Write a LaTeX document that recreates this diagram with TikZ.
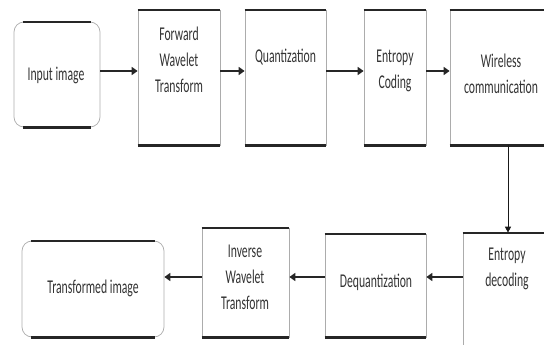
\documentclass[tikz,border=0pt]{standalone}
\usepackage{fontspec}
\newfontfamily\cf[FakeStretch=0.6]{Carlito}
\usetikzlibrary{arrows.meta}
\begin{document}
\begin{tikzpicture}[x=1pt,y=-1pt,
  box/.style={draw=gray!65, line width=0.7pt, rectangle, inner sep=0pt},
  rbox/.style={box, rounded corners=10pt},
  lbl/.style={text=black!80, font=\cf\fontsize{19.5}{26}\selectfont, align=center, inner sep=0pt},
  arr/.style={draw=black!85, line width=2.4pt, -{Triangle[length=6pt,width=8pt]}},
  varr/.style={draw=black!90, line width=1pt, -{Triangle[length=6pt,width=6pt]}},
  topedge/.style={draw=black!85, line width=1.8pt},
  botedge/.style={draw=black!85, line width=2.6pt}]
\useasboundingbox (0,0) rectangle (544,345);
\clip (0,0) rectangle (544,345);
% top row boxes
\node[rbox, minimum width=86pt, minimum height=105pt] (in) at (57,74.5) {};
\node[box, minimum width=82pt, minimum height=135pt] (fwt) at (179,77.5) {};
\node[box, minimum width=81pt, minimum height=135pt] (q) at (285.5,77.5) {};
\node[box, minimum width=62pt, minimum height=135pt] (ec) at (395,77.5) {};
\node[box, minimum width=120pt, minimum height=135pt] (wc) at (510,77.5) {};
% bottom row boxes
\node[rbox, minimum width=142pt, minimum height=96pt] (tr) at (93,289) {};
\node[box, minimum width=87pt, minimum height=109pt] (iwt) at (245.5,282.5) {};
\node[box, minimum width=101pt, minimum height=103pt] (dq) at (375.5,285.5) {};
\node[box, minimum width=120pt, minimum height=140pt] (ed) at (523,303) {};
% thick top/bottom edges
\foreach \n in {fwt,q,ec,wc,iwt,dq,ed}{
  \draw[topedge] (\n.north west) -- (\n.north east);
}
\foreach \n in {fwt,q,ec,wc,iwt,dq}{
  \draw[botedge] (\n.south west) -- (\n.south east);
}
\foreach \n in {in,tr}{
  \draw[topedge] ([xshift=9pt]\n.north west) -- ([xshift=-9pt]\n.north east);
  \draw[botedge] ([xshift=9pt]\n.south west) -- ([xshift=-9pt]\n.south east);
}
% labels
\node[lbl] (tin) at (56,75) {Input image};
\node[lbl] (tfwt) at (179,60) {Forward\\Wavelet\\Transform};
\node[lbl] (tq) at (285.5,57) {Quantization};
\node[lbl] (tec) at (395,71) {Entropy\\Coding};
\node[lbl] (twc) at (501,74) {Wireless\\communication};
\node[lbl] (ttr) at (93,288) {Transformed image};
\node[lbl] (tiwt) at (245,277) {Inverse\\Wavelet\\Transform};
\node[lbl] (tdq) at (376,282) {Dequantization};
\node[lbl] (ted) at (507,269) {Entropy\\decoding};
% connectors
\coordinate (ya) at (0,71);
\coordinate (yb) at (0,277);
\coordinate (xv) at (508,0);
\draw[arr] (in.east |- ya) -- (fwt.west |- ya);
\draw[arr] (fwt.east |- ya) -- (q.west |- ya);
\draw[arr] (q.east |- ya) -- (ec.west |- ya);
\draw[arr] (ec.east |- ya) -- (wc.west |- ya);
\draw[varr] (xv |- wc.south) -- (xv |- ed.north);
\draw[arr] (ed.west |- yb) -- (dq.east |- yb);
\draw[arr] (dq.west |- yb) -- (iwt.east |- yb);
\draw[arr] (iwt.west |- yb) -- (tr.east |- yb);
\end{tikzpicture}
\end{document}
